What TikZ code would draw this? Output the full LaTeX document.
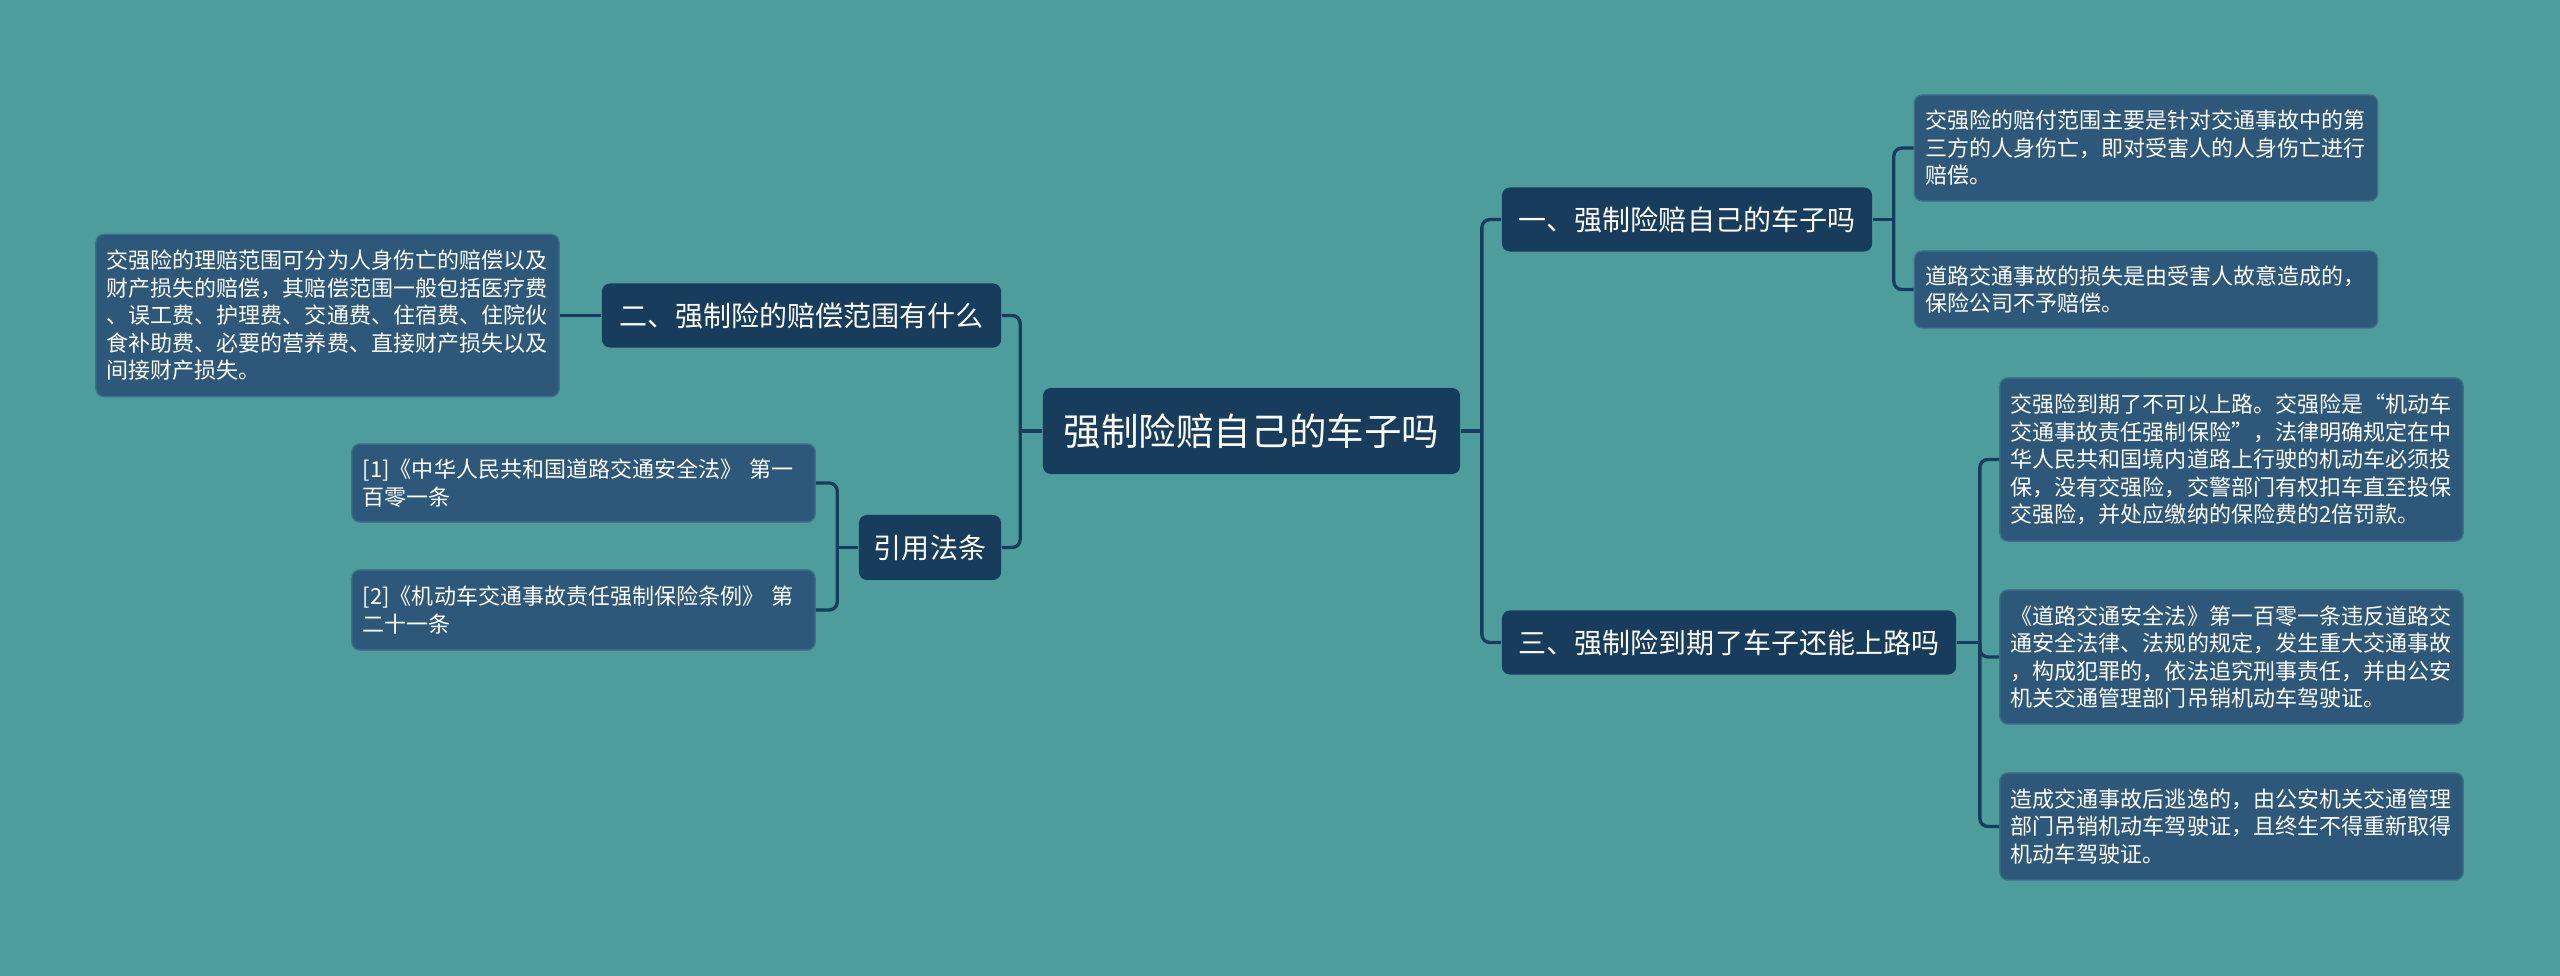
\documentclass[tikz,border=0pt]{standalone}
\usepackage{fontspec}
\setmainfont{Noto Sans CJK SC}
\usepackage{tikz}
\definecolor{bgteal}{RGB}{78,157,157}
\definecolor{nodedark}{RGB}{24,61,92}
\definecolor{leafblue}{RGB}{46,88,122}
\definecolor{leafedge}{RGB}{66,108,140}
\newcommand\rootfont{\fontsize{10.67pt}{13pt}\selectfont}
\newcommand\topicfont{\fontsize{7.97pt}{9.6pt}\selectfont}
\newcommand\leaffont{\fontsize{6.26pt}{7.82pt}\selectfont}
\tikzset{
  mind/.style={x=0.01cm,y=-0.01cm},
  box/.style={rounded corners=0.08cm,text=white,inner sep=0pt,align=center},
  rootbox/.style={box,fill=nodedark,minimum width=4.17cm,minimum height=0.86cm,font=\rootfont},
  topic/.style={box,fill=nodedark,minimum height=0.64cm,font=\topicfont},
  leaf/.style={box,fill=leafblue,draw=leafedge,line width=0.4pt,align=left,inner xsep=0.11cm,text width=4.41cm,font=\leaffont},
  link/.style={draw=nodedark,line width=0.033cm,rounded corners=0.08cm},
}

\begin{document}
\begin{tikzpicture}[mind]
\fill[bgteal] (0,0) rectangle (2560,976);
% centre and main topics
\node[rootbox] (root) at (1251.5,431) {强制险赔自己的车子吗};
\node[topic,minimum width=3.70cm] (b1) at (1687,219.5) {一、强制险赔自己的车子吗};
\node[topic,minimum width=4.54cm] (b3) at (1729,642.5) {三、强制险到期了车子还能上路吗};
\node[topic,minimum width=3.99cm] (b2) at (801.5,315.5) {二、强制险的赔偿范围有什么};
\node[topic,minimum width=1.42cm,minimum height=0.65cm] (b4) at (930,547.5) {引用法条};
% details
\node[leaf,minimum height=1.06cm] (l1a) at (2146,148) {交强险的赔付范围主要是针对交通事故中的第\\三方的人身伤亡，即对受害人的人身伤亡进行\\赔偿。};
\node[leaf,minimum height=0.77cm] (l1b) at (2146,289.5) {道路交通事故的损失是由受害人故意造成的，\\保险公司不予赔偿。};
\node[leaf,minimum height=1.63cm] (l3a) at (2231.5,459.5) {交强险到期了不可以上路。交强险是“机动车\\交通事故责任强制保险”，法律明确规定在中\\华人民共和国境内道路上行驶的机动车必须投\\保，没有交强险，交警部门有权扣车直至投保\\交强险，并处应缴纳的保险费的2倍罚款。};
\node[leaf,minimum height=1.34cm] (l3b) at (2231.5,657) {《道路交通安全法》第一百零一条违反道路交\\通安全法律、法规的规定，发生重大交通事故\\，构成犯罪的，依法追究刑事责任，并由公安\\机关交通管理部门吊销机动车驾驶证。};
\node[leaf,minimum height=1.07cm] (l3c) at (2231.5,826.5) {造成交通事故后逃逸的，由公安机关交通管理\\部门吊销机动车驾驶证，且终生不得重新取得\\机动车驾驶证。};
\node[leaf,minimum height=1.62cm] (l2a) at (327.5,315.5) {交强险的理赔范围可分为人身伤亡的赔偿以及\\财产损失的赔偿，其赔偿范围一般包括医疗费\\、误工费、护理费、交通费、住宿费、住院伙\\食补助费、必要的营养费、直接财产损失以及\\间接财产损失。};
\node[leaf,minimum height=0.78cm] (l4a) at (583.5,483) {[1]《中华人民共和国道路交通安全法》 第一\\百零一条};
\node[leaf,minimum height=0.80cm] (l4b) at (583.5,610) {[2]《机动车交通事故责任强制保险条例》 第\\二十一条};
% junctions
\coordinate (jr) at ([xshift=0.21cm]root.east);
\coordinate (jl) at ([xshift=-0.22cm]root.west);
\coordinate (j1) at ([xshift=0.21cm]b1.east);
\coordinate (j3) at ([xshift=0.23cm]b3.east);
\coordinate (j4) at ([xshift=-0.21cm]b4.west);
% connectors
\draw[link] (root.east) -- (jr);
\draw[link] (jr) |- (b1.west);
\draw[link] (jr) |- (b3.west);
\draw[link] (root.west) -- (jl);
\draw[link] (jl) |- (b2.east);
\draw[link] (jl) |- (b4.east);
\draw[link] (b1.east) -- (j1);
\draw[link] (j1) |- (l1a.west);
\draw[link] (j1) |- (l1b.west);
\draw[link] (b3.east) -- (j3);
\foreach \n in {l3a,l3b,l3c}
  \draw[link] (j3) |- (\n.west);
\draw[link] (b2.west) -- (l2a.east);
\draw[link] (b4.west) -- (j4);
\draw[link] (j4) |- (l4a.east);
\draw[link] (j4) |- (l4b.east);
\end{tikzpicture}
\end{document}
